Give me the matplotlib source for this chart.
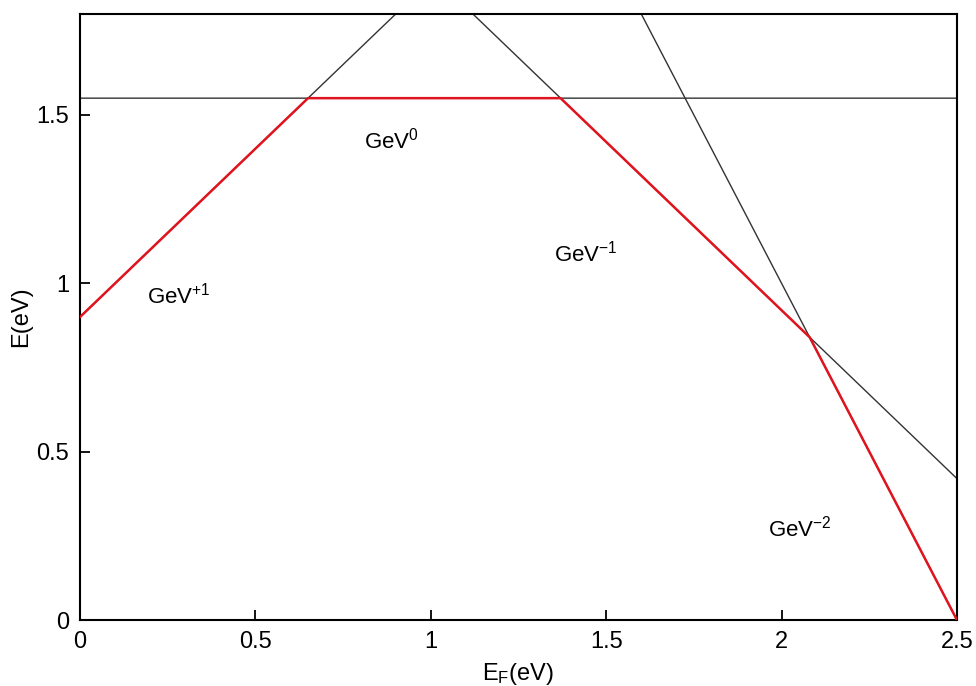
import matplotlib
matplotlib.use("Agg")
import matplotlib.pyplot as plt
import numpy as np

plt.rcParams["font.family"] = ["Liberation Sans", "DejaVu Sans"]
plt.rcParams["mathtext.fontset"] = "custom"
plt.rcParams["mathtext.rm"] = "Liberation Sans"
plt.rcParams["mathtext.it"] = "Liberation Sans"

# charge states and formation-energy offsets at E_F = 0 (eV)
charges = [1, 0, -1, -2]
offsets = [0.90, 1.55, 2.92, 5.00]
labels = [r"GeV$^{+1}$", r"GeV$^{0}$", r"GeV$^{-1}$", r"GeV$^{-2}$"]
label_pos = [(0.19, 0.94), (0.81, 1.40), (1.35, 1.065), (1.96, 0.247)]

x_ticks = [0, 0.5, 1, 1.5, 2, 2.5]
x_ticklabels = ["0", "0.5", "1", "1.5", "2", "2.5"]
y_ticks = [0, 0.5, 1, 1.5]
y_ticklabels = ["0", "0.5", "1", "1.5"]

ef = np.linspace(0, 2.5, 2001)
energies = np.array([e0 + q * ef for q, e0 in zip(charges, offsets)])

fig = plt.figure(figsize=(9.76, 6.86), dpi=100)
ax = fig.add_axes([0.082, 0.0962, 0.8985, 0.8834])

for e in energies:
    ax.plot(ef, e, color="#333333", lw=1.0)
ax.plot(ef, energies.min(axis=0), color="#e0141e", lw=1.8, zorder=5)

for text, (tx, ty) in zip(labels, label_pos):
    ax.text(tx, ty, text, fontsize=16, va="baseline", ha="left")

ax.set_xlim(0, 2.5)
ax.set_ylim(0, 1.8)
ax.set_xticks(x_ticks)
ax.set_xticklabels(x_ticklabels)
ax.set_yticks(y_ticks)
ax.set_yticklabels(y_ticklabels)
ax.tick_params(direction="in", length=7, width=1.3, labelsize=17,
               top=False, right=False, pad=8)
for s in ax.spines.values():
    s.set_linewidth(1.5)

ax.set_xlabel(r"E$_\mathregular{F}$(eV)", fontsize=17, labelpad=6)
ax.set_ylabel("E(eV)", fontsize=17, labelpad=3)

fig.savefig("out.png", dpi=100)
